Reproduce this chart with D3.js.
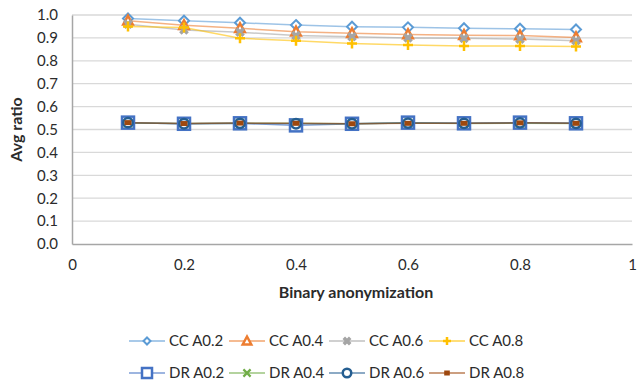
<!DOCTYPE html>
<html>
<head>
<meta charset="utf-8">
<script src="https://cdn.jsdelivr.net/npm/d3@7"></script>
<style>
    body { margin: 0; background: #fff; }
    text { font-family: Lato, "Open Sans", sans-serif; fill: #2b2b2b; }
</style>
</head>
<body>
<div id="chart"></div>
<script>
// chart data
const xValues = [0.1, 0.2, 0.3, 0.4, 0.5, 0.6, 0.7, 0.8, 0.9];
const ccA02 = [0.985, 0.975, 0.966, 0.956, 0.949, 0.946, 0.942, 0.940, 0.937];
const ccA04 = [0.975, 0.955, 0.942, 0.927, 0.920, 0.915, 0.912, 0.910, 0.902];
const ccA06 = [0.960, 0.935, 0.925, 0.910, 0.905, 0.900, 0.898, 0.895, 0.888];
const ccA08 = [0.950, 0.945, 0.898, 0.888, 0.876, 0.869, 0.865, 0.865, 0.862];
const drA02 = [0.530, 0.525, 0.527, 0.518, 0.525, 0.530, 0.527, 0.530, 0.527];
const drA04 = [0.528, 0.526, 0.527, 0.527, 0.525, 0.528, 0.526, 0.527, 0.526];
const drA06 = [0.530, 0.525, 0.527, 0.525, 0.525, 0.528, 0.527, 0.529, 0.527];
const drA08 = [0.530, 0.526, 0.528, 0.527, 0.525, 0.527, 0.527, 0.529, 0.527];
const seriesNames = ["CC A0.2", "CC A0.4", "CC A0.6", "CC A0.8", "DR A0.2", "DR A0.4", "DR A0.6", "DR A0.8"];
const yTicks = [0, 0.1, 0.2, 0.3, 0.4, 0.5, 0.6, 0.7, 0.8, 0.9, 1.0];
const xTicks = [0, 0.2, 0.4, 0.6, 0.8, 1];

const series = [ccA02, ccA04, ccA06, ccA08, drA02, drA04, drA06, drA08].map((vals, i) => ({
    name: seriesNames[i],
    values: vals.map((v, j) => ({x: xValues[j], y: v}))
}));

// styling per series
const colors = ["#5B9BD5", "#ED7D31", "#A5A5A5", "#FFC000", "#4472C4", "#70AD47", "#255E91", "#9E480E"];
const markers = ["diamond", "triangle", "star", "plus", "square", "cross", "circle", "dash"];

const width = 644, height = 381;
const margin = {top: 15, left: 72, right: 12, bottom: 137};

const svg = d3.select("#chart").append("svg")
    .attr("width", width)
    .attr("height", height);

const x = d3.scaleLinear().domain([0, 1]).range([margin.left, width - margin.right]);
const y = d3.scaleLinear().domain([0, 1]).range([height - margin.bottom, margin.top]);

// gridlines
svg.append("g")
    .selectAll("line")
    .data(yTicks.slice(1))
    .enter()
    .append("line")
    .attr("x1", x(0))
    .attr("x2", x(1))
    .attr("y1", d => y(d))
    .attr("y2", d => y(d))
    .attr("stroke", "#D9D9D9")
    .attr("stroke-width", 1.3);

// y axis
const yAxis = svg.append("g")
    .attr("transform", `translate(${x(0)}, 0)`)
    .call(d3.axisLeft(y).tickValues(yTicks).tickFormat(d3.format(".1f")).tickSize(0).tickPadding(14));
yAxis.select(".domain").attr("stroke", "#A6A6A6").attr("stroke-width", 1.5);
yAxis.selectAll("text").style("font-size", "15px").style("fill", "#2b2b2b").attr("font-family", null);

// x axis
const xAxis = svg.append("g")
    .attr("transform", `translate(0, ${y(0)})`)
    .call(d3.axisBottom(x).tickValues(xTicks).tickFormat(d => d === 0 || d === 1 ? d3.format("d")(d) : d3.format(".1f")(d)).tickSize(0).tickPadding(15));
xAxis.select(".domain").attr("stroke", "#A6A6A6").attr("stroke-width", 1.5);
xAxis.selectAll("text").style("font-size", "15px").style("fill", "#2b2b2b").attr("font-family", null);

// axis titles
svg.append("text")
    .attr("transform", `translate(22, ${(y(0) + y(1)) / 2}) rotate(-90)`)
    .attr("text-anchor", "middle")
    .style("font-size", "16px")
    .style("font-weight", "bold")
    .text("Avg ratio");

svg.append("text")
    .attr("x", (x(0) + x(1)) / 2 + 4)
    .attr("y", 298)
    .attr("text-anchor", "middle")
    .style("font-size", "16px")
    .style("font-weight", "bold")
    .text("Binary anonymization");

// marker drawing, r = half width in px
function drawMarker(g, type, color, r) {
    if (type === "diamond") {
        g.append("path").attr("d", `M0,${-r}L${r},0L0,${r}L${-r},0Z`)
            .attr("fill", "#fff").attr("stroke", color).attr("stroke-width", 2);
    } else if (type === "triangle") {
        g.append("path").attr("d", `M0,${-r}L${r * 0.95},${r * 0.75}L${-r * 0.95},${r * 0.75}Z`)
            .attr("fill", "#fff").attr("stroke", color).attr("stroke-width", 2.5);
    } else if (type === "star") {
        g.append("path").attr("d", `M${-r * 0.8},${-r * 0.8}L${r * 0.8},${r * 0.8}M${r * 0.8},${-r * 0.8}L${-r * 0.8},${r * 0.8}`)
            .attr("stroke", color).attr("stroke-width", 3.5);
    } else if (type === "plus") {
        g.append("path").attr("d", `M${-r},0L${r},0M0,${-r}L0,${r}`)
            .attr("fill", "none").attr("stroke", color).attr("stroke-width", 2.5);
    } else if (type === "square") {
        g.append("rect").attr("x", -r).attr("y", -r)
            .attr("width", r * 2).attr("height", r * 2)
            .attr("fill", "#fff").attr("stroke", color).attr("stroke-width", 2.5);
    } else if (type === "cross") {
        g.append("path").attr("d", `M${-r * 0.8},${-r * 0.8}L${r * 0.8},${r * 0.8}M${r * 0.8},${-r * 0.8}L${-r * 0.8},${r * 0.8}`)
            .attr("stroke", color).attr("stroke-width", 2.2);
    } else if (type === "circle") {
        g.append("circle").attr("r", r * 0.85)
            .attr("fill", "#fff").attr("stroke", color).attr("stroke-width", 2.5);
    } else if (type === "dash") {
        g.append("rect").attr("x", -r * 0.7).attr("y", -2.5)
            .attr("width", r * 1.4).attr("height", 5)
            .attr("fill", color);
    }
}

const plotSize = [5, 5, 4.5, 5, 6, 5, 5.5, 5];
const legendSize = [3.5, 4.5, 4, 4, 5, 4.5, 5, 4];

const line = d3.line().x(d => x(d.x)).y(d => y(d.y));

// lines first, then markers
series.forEach((s, i) => {
    svg.append("path")
        .datum(s.values)
        .attr("fill", "none")
        .attr("stroke", colors[i])
        .attr("stroke-opacity", 0.6)
        .attr("stroke-width", 1.5)
        .attr("d", line);
});

series.forEach((s, i) => {
    s.values.forEach(d => {
        const g = svg.append("g").attr("transform", `translate(${x(d.x)}, ${y(d.y)})`);
        drawMarker(g, markers[i], colors[i], plotSize[i]);
    });
});

// legend
seriesNames.forEach((name, i) => {
    const col = i % 4, row = Math.floor(i / 4);
    const lx = 129 + col * 100, ly = 341 + row * 32;
    const g = svg.append("g");
    g.append("line")
        .attr("x1", lx).attr("x2", lx + 36)
        .attr("y1", ly).attr("y2", ly)
        .attr("stroke", colors[i]).attr("stroke-opacity", 0.7).attr("stroke-width", 1.5);
    const m = g.append("g").attr("transform", `translate(${lx + 18}, ${ly})`);
    drawMarker(m, markers[i], colors[i], legendSize[i]);
    g.append("text")
        .attr("x", lx + 40)
        .attr("y", ly)
        .attr("dy", "0.35em")
        .style("font-size", "15px")
        .text(name);
});
</script>
</body>
</html>
